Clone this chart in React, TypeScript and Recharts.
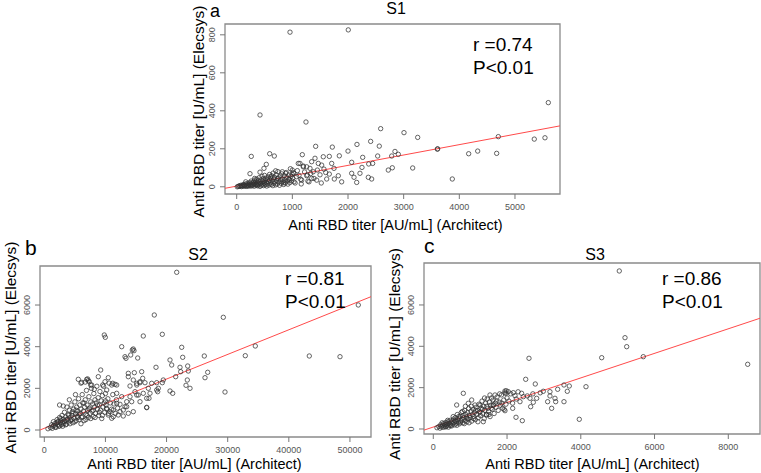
import React from 'react';
import {
  ScatterChart,
  Scatter,
  XAxis,
  YAxis,
  ReferenceArea,
  ReferenceLine,
} from 'recharts';

const FONT = '"Liberation Sans", Arial, sans-serif';

// S1: Architect [AU/mL] vs Elecsys [U/mL]
const s1Points: [number, number][] = [
  [958, 814], [2005, 826], [419, 378], [1245, 341], [5599, 443], [5347, 251], [5539, 258],
  [4701, 264], [4671, 176], [4330, 188], [4168, 174], [3874, 41], [3611, 200], [3605, 198],
  [3252, 260], [3162, 99], [3006, 285], [2587, 306], [2407, 239], [2562, 214], [2161, 223],
  [2000, 188], [1718, 209], [1419, 213], [1179, 169], [262, 160], [593, 174], [676, 162],
  [239, 69], [2904, 171], [2844, 186], [2785, 162], [2796, 100], [2724, 88], [2533, 162],
  [2443, 123], [2372, 120], [2264, 155], [2251, 102], [2365, 50], [2425, 41], [2156, 23],
  [2108, 50], [2066, 71], [2215, 71], [2066, 129], [1844, 163], [1664, 160], [1556, 158],
  [1407, 150], [1826, 58], [1886, 26], [1754, 41], [1664, 67], [1748, 97], [1707, 123],
  [1568, 93], [1527, 114], [1497, 63], [1617, 41], [1466, 123], [1347, 132], [1317, 97],
  [1258, 105], [1197, 109], [1107, 123], [1376, 79], [1258, 58], [1347, 44], [1437, 35],
  [1168, 35], [1078, 53], [1017, 74], [532, 118], [490, 97], [419, 77], [700, 84], [820, 79],
  [880, 71], [1000, 88], [1029, 71], [1137, 123], [1197, 105], [323, 44], [162, 26], [611, 53],
  [730, 44], [940, 39], [1150, 39], [1269, 62], [1389, 44], [1299, 26], [1029, 26], [850, 21],
  [490, 18], [370, 9], [131, 9], [10, 0],
  [30, 2], [45, 5], [60, 3], [75, 8], [85, 1], [95, 6], [110, 4], [120, 12], [135, 3], [150, 7],
  [160, 15], [170, 2], [180, 10], [190, 5], [200, 18], [210, 8], [215, 3], [225, 12], [235, 22],
  [245, 6], [250, 15], [260, 30], [265, 4], [275, 11], [280, 20], [290, 8], [300, 25], [305, 14],
  [315, 3], [320, 35], [330, 18], [340, 9], [345, 28], [355, 12], [360, 40], [370, 22], [375, 5],
  [385, 16], [390, 32], [400, 10], [405, 48], [415, 25], [420, 2], [430, 18], [440, 36], [445, 8],
  [455, 55], [460, 14], [470, 28], [480, 42], [485, 6], [495, 20], [500, 60], [510, 33], [515, 11],
  [525, 45], [530, 24], [540, 4], [550, 38], [555, 16], [565, 52], [570, 28], [580, 9], [590, 65],
  [595, 35], [605, 20], [615, 44], [620, 12], [630, 58], [640, 30], [650, 6], [655, 72], [665, 40],
  [670, 18], [680, 50], [690, 26], [700, 10], [710, 62], [720, 34], [730, 15], [740, 80], [750, 46],
  [760, 24], [770, 8], [780, 56], [790, 36], [800, 18], [810, 68], [820, 42], [830, 28], [845, 12],
  [855, 58], [865, 36], [875, 20], [890, 75], [900, 48], [910, 30], [920, 14], [935, 62], [945, 40],
  [955, 22], [965, 95], [975, 55], [985, 32], [995, 66], [1005, 45], [1050, 20], [1090, 85],
  [1120, 60], [1160, 15], [1220, 78], [1280, 30], [1330, 70], [1450, 88], [1520, 20], [1600, 75],
];

// S2
const s2Points: [number, number][] = [
  [21660, 7571], [17995, 5521], [29283, 5410], [51366, 6001], [9815, 4561], [9979, 4450],
  [16195, 4513], [19303, 4594], [12662, 3999], [14559, 3889], [14674, 3807], [13202, 3519],
  [15279, 3456], [22476, 3970], [22640, 3490], [26174, 3553], [32881, 3567], [34517, 4033],
  [43350, 3553], [48372, 3519], [29560, 1824], [26288, 2511], [26730, 2770], [23458, 3072],
  [23556, 2832], [22198, 3010], [22312, 2799], [21495, 2559], [23180, 2146], [23393, 2400],
  [23835, 2002], [21005, 1762], [20563, 1872], [20563, 3361], [20841, 3120], [19467, 2400],
  [19303, 2271], [18273, 3010], [18551, 1839], [18387, 2271], [18649, 2002], [16751, 1090],
  [17127, 1522], [16195, 1762], [15933, 2799], [16097, 2482], [15655, 2271], [14723, 2751],
  [15115, 2160], [13741, 2559], [14019, 2112], [9226, 2880], [8834, 2559], [7198, 2367],
  [6118, 2289], [5562, 2433], [7754, 2160], [8179, 1954], [9930, 2319], [10469, 2511],
  [11027, 2160], [11566, 2194], [10208, 1920], [11844, 1762], [12662, 1599], [12384, 1234],
  [12923, 960], [13480, 1119], [14297, 1359], [14559, 879], [15115, 1680], [11288, 639],
  [12105, 720], [13741, 802], [10748, 879],
  [14395, 3841], [14133, 3601], [13365, 3442], [13741, 2722], [6936, 2433], [7361, 2319],
  [7590, 2160], [9553, 2160], [11189, 2242], [11844, 2160], [14559, 2400], [15115, 2242],
  [15655, 2319], [16473, 2271], [17013, 2002], [17569, 2242], [18387, 1920], [17291, 1762],
  [16751, 1522], [15655, 1359], [16751, 1071], [15377, 1680], [14837, 1839], [14019, 1599],
  [13480, 1359], [13202, 1119], [12384, 879], [12923, 672], [11844, 1282], [11288, 960],
  [10469, 720], [11027, 562], [10208, 1042],
  [600, 60], [1000, 120], [1200, 250], [1400, 180], [1500, 400], [1700, 300], [1800, 150],
  [2000, 350], [2100, 500], [2200, 250], [2300, 420], [2400, 180], [2500, 600], [2600, 330],
  [2700, 450], [2800, 250], [2900, 700], [3000, 380], [3100, 520], [3200, 300], [3300, 850],
  [3400, 450], [3500, 620], [3600, 280], [3700, 1100], [3800, 520], [3900, 750], [4000, 380],
  [4100, 950], [4200, 600], [4300, 450], [4400, 1200], [4500, 700], [4600, 880], [4700, 350],
  [4800, 1000], [4900, 560], [5000, 1350], [5100, 780], [5200, 450], [5300, 1100], [5400, 650],
  [5500, 900], [5600, 1500], [5700, 500], [5800, 1200], [5900, 800], [6000, 1000], [6100, 600],
  [6200, 1700], [6300, 1300], [6400, 900], [6500, 450], [6600, 1100], [6700, 1450], [6800, 750],
  [6900, 1900], [7000, 1200], [7100, 950], [7200, 600], [7300, 1600], [7400, 1050], [7500, 800],
  [7600, 1350], [7700, 2000], [7800, 900], [7900, 1250], [8000, 650], [8100, 1750], [8200, 1100],
  [8300, 1450], [8400, 800], [8500, 1300], [8600, 2100], [8700, 1000], [8800, 1550], [8900, 700],
  [9000, 1200], [9100, 1850], [9200, 950], [9300, 1400], [9400, 550], [9500, 1650], [9600, 1100],
  [9700, 2100], [9800, 1300], [9900, 850], [10000, 1750], [10100, 1200], [10200, 1000],
  [10400, 1500], [10600, 2250], [10800, 1300], [11000, 1000], [11200, 1700], [11400, 1250],
  [11600, 800], [11800, 1450], [12000, 1050],
  [1300, 80], [1600, 220], [1900, 120], [2200, 380], [2500, 200], [2700, 550], [3000, 180],
  [3300, 400], [3500, 250], [3700, 500], [4000, 700], [4200, 300], [4500, 500], [4700, 800],
  [5000, 400], [5200, 950], [5500, 600], [5700, 750], [6000, 300], [6200, 650], [6500, 1300],
  [6800, 500], [7000, 700], [7300, 1000], [7600, 550], [8000, 950], [8300, 600], [8700, 1200],
  [9000, 850], [9500, 700], [10000, 1400], [10500, 800], [3100, 1150], [4100, 1450],
  [5100, 1700], [6000, 2250], [6700, 2300], [7100, 2450], [2500, 1200],
];

// S3
const s3Points: [number, number][] = [
  [5044, 7644], [5199, 4417], [5245, 3982], [5695, 3498], [4567, 3449], [8526, 3130],
  [2595, 3420], [2506, 2404], [2766, 2177], [4141, 2046], [3688, 2080], [3544, 2129],
  [3634, 1824], [3544, 1321], [3959, 469], [2414, 402], [2243, 566], [3373, 1921], [3164, 1805],
  [3164, 1597], [3300, 1485], [3319, 1321], [3210, 1001], [3101, 1321], [2983, 1824],
  [2804, 1485], [2712, 1290], [2622, 1485], [2641, 1079], [2351, 1321], [2441, 1563],
  [2396, 1727], [2153, 1001], [814, 1727], [1944, 886], [1627, 1161], [2170, 1756], [2216, 1611],
  [2034, 1805], [1944, 1838], [1972, 1727], [1673, 1645], [1537, 1645], [1447, 677], [1356, 353],
  [1266, 837], [1131, 1161], [1041, 1403], [949, 1243], [634, 1161],
  [100, 60], [150, 120], [180, 40], [200, 200], [220, 100], [250, 180], [270, 80], [280, 260],
  [300, 150], [320, 220], [340, 320], [350, 120], [370, 250], [380, 180], [400, 350], [410, 90],
  [430, 280], [450, 200], [460, 420], [480, 300], [500, 150], [510, 380], [530, 250], [550, 480],
  [560, 320], [580, 200], [600, 550], [610, 400], [630, 280], [650, 700], [660, 450], [680, 330],
  [700, 520], [710, 250], [730, 620], [750, 400], [760, 800], [780, 480], [800, 300], [810, 650],
  [830, 550], [850, 900], [860, 400], [880, 700], [900, 580], [910, 350], [930, 800], [950, 480],
  [960, 1000], [980, 650], [1000, 550], [1020, 850], [1040, 380], [1060, 700], [1080, 950],
  [1100, 600], [1120, 800], [1140, 450], [1160, 1050], [1180, 700], [1200, 900], [1220, 550],
  [1240, 1200], [1260, 800], [1280, 650], [1300, 1000], [1320, 1350], [1340, 750], [1360, 1100],
  [1380, 500], [1400, 900], [1420, 1250], [1440, 700], [1460, 1450], [1480, 1000], [1500, 850],
  [1520, 1300], [1540, 600], [1560, 1150], [1580, 1500], [1600, 950], [1620, 1400], [1650, 750],
  [1680, 1250], [1700, 1050], [1730, 1550], [1760, 900], [1790, 1300], [1820, 1150], [1850, 1650],
  [1880, 1000], [1910, 1400], [1940, 1750], [1970, 1200], [2000, 1500], [2050, 1350], [2100, 1700],
  [2150, 1250], [2250, 1450], [2300, 1800], [2550, 1600], [2700, 1700], [2900, 1750],
  [240, 300], [330, 100], [390, 420], [470, 160], [540, 600], [590, 380], [640, 180], [690, 600],
  [740, 330], [790, 850], [840, 260], [870, 1100], [920, 500], [970, 300], [1030, 1100],
  [1090, 500], [1150, 900], [1210, 350], [1270, 1150], [1330, 950], [1390, 1500], [1450, 1100],
  [1510, 700], [1570, 1000], [1630, 1150], [1720, 1350], [1800, 1700], [1860, 1250], [1920, 950],
  [1980, 1850],
];

const s1XTicks = [0, 1000, 2000, 3000, 4000, 5000];
const s1YTicks = [0, 200, 400, 600, 800];
const s2XTicks = [0, 10000, 20000, 30000, 40000, 50000];
const s2YTicks = [0, 2000, 4000, 6000];
const s3XTicks = [0, 2000, 4000, 6000, 8000];
const s3YTicks = [0, 2000, 4000, 6000];

// regression lines: [intercept, slope]
const s1Fit = [3.5, 0.0546];
const s2Fit = [83, 0.1182];
const s3Fit = [95, 0.594];

const XTick = (props: any) => {
  const { x, y, payload } = props;
  return (
    <text x={x} y={y + 9} textAnchor="middle" fontSize={9} fill="#555" fontFamily={FONT}>
      {payload.value}
    </text>
  );
};

const YTick = (props: any) => {
  const { x, y, payload } = props;
  const bx = x - 3;
  return (
    <text
      x={bx}
      y={y}
      transform={`rotate(-90, ${bx}, ${y})`}
      textAnchor="middle"
      fontSize={9}
      fill="#555"
      fontFamily={FONT}
    >
      {payload.value}
    </text>
  );
};

const dot = (p: any) => (
  <circle cx={p.cx} cy={p.cy} r={2.2} fill="none" stroke="#333" strokeWidth={0.75} />
);

interface PanelProps {
  box: { x: number; y: number; w: number; h: number };
  xDomain: [number, number];
  yDomain: [number, number];
  xTicks: number[];
  yTicks: number[];
  points: [number, number][];
  fit: number[];
}

const Panel = ({ box, xDomain, yDomain, xTicks, yTicks, points, fit }: PanelProps) => {
  const data = points.map(([x, y]) => ({ x, y }));
  const [a, b] = fit;
  return (
    <div style={{ position: 'absolute', left: box.x - 40, top: box.y - 2 }}>
      <ScatterChart
        width={box.w + 43}
        height={box.h + 32}
        margin={{ top: 2, right: 3, left: 0, bottom: 0 }}
      >
        <XAxis
          type="number"
          dataKey="x"
          domain={xDomain}
          ticks={xTicks}
          interval={0}
          allowDataOverflow
          axisLine={false}
          tickSize={5}
          tickLine={{ stroke: '#777' }}
          tick={<XTick />}
          height={30}
        />
        <YAxis
          type="number"
          dataKey="y"
          domain={yDomain}
          ticks={yTicks}
          interval={0}
          allowDataOverflow
          axisLine={false}
          tickSize={5}
          tickLine={{ stroke: '#777' }}
          tick={<YTick />}
          width={40}
        />
        <Scatter data={data} shape={dot} isAnimationActive={false} />
        <ReferenceLine
          segment={[
            { x: xDomain[0], y: a + b * xDomain[0] },
            { x: xDomain[1], y: a + b * xDomain[1] },
          ]}
          stroke="#ff4a4a"
          strokeWidth={1}
          ifOverflow="hidden"
        />
        <ReferenceArea
          x1={xDomain[0]}
          x2={xDomain[1]}
          y1={yDomain[0]}
          y2={yDomain[1]}
          fill="none"
          stroke="#8a8a8a"
          strokeWidth={1.3}
          ifOverflow="visible"
        />
      </ScatterChart>
    </div>
  );
};

const xLabel = 'Anti RBD titer [AU/mL] (Architect)';
const yLabel = 'Anti RBD titer [U/mL] (Elecsys)';

export default function App() {
  return (
    <div
      style={{
        position: 'absolute',
        left: 0,
        top: 0,
        width: 761,
        height: 473,
        background: '#fff',
        overflow: 'hidden',
      }}
    >
      <Panel
        box={{ x: 225, y: 24, w: 335, h: 170 }}
        xDomain={[-210, 5809]}
        yDomain={[-38, 857]}
        xTicks={s1XTicks}
        yTicks={s1YTicks}
        points={s1Points}
        fit={s1Fit}
      />
      <Panel
        box={{ x: 40, y: 266, w: 331, h: 171 }}
        xDomain={[-703, 53443]}
        yDomain={[-336, 7873]}
        xTicks={s2XTicks}
        yTicks={s2YTicks}
        points={s2Points}
        fit={s2Fit}
      />
      <Panel
        box={{ x: 424, y: 263, w: 336, h: 171 }}
        xDomain={[-252, 8860]}
        yDomain={[-242, 8030]}
        xTicks={s3XTicks}
        yTicks={s3YTicks}
        points={s3Points}
        fit={s3Fit}
      />
      <svg
        width={761}
        height={473}
        style={{ position: 'absolute', left: 0, top: 0, pointerEvents: 'none' }}
        fontFamily={FONT}
      >
        {/* panel letters */}
        <text x={210} y={17} fontSize={18}>a</text>
        <text x={25} y={255} fontSize={21}>b</text>
        <text x={424} y={253} fontSize={21}>c</text>
        {/* titles */}
        <text x={396} y={14} fontSize={16} textAnchor="middle">S1</text>
        <text x={198} y={260} fontSize={16} textAnchor="middle">S2</text>
        <text x={595} y={260} fontSize={16} textAnchor="middle">S3</text>
        {/* stats */}
        <text x={473} y={51} fontSize={19}>r =0.74</text>
        <text x={473} y={73.5} fontSize={19}>P&lt;0.01</text>
        <text x={285} y={285} fontSize={19}>r =0.81</text>
        <text x={285} y={308} fontSize={19}>P&lt;0.01</text>
        <text x={662} y={285} fontSize={19}>r =0.86</text>
        <text x={662} y={308} fontSize={19}>P&lt;0.01</text>
        {/* axis titles */}
        <text x={395.5} y={229.5} fontSize={14.5} textAnchor="middle">{xLabel}</text>
        <text x={194.5} y={469} fontSize={14.5} textAnchor="middle">{xLabel}</text>
        <text x={592.5} y={469} fontSize={14.5} textAnchor="middle">{xLabel}</text>
        <text x={203.5} y={111.5} fontSize={15.5} textAnchor="middle" transform="rotate(-90, 203.5, 111.5)">{yLabel}</text>
        <text x={16} y={347.5} fontSize={15.5} textAnchor="middle" transform="rotate(-90, 16, 347.5)">{yLabel}</text>
        <text x={399.5} y={354} fontSize={15.5} textAnchor="middle" transform="rotate(-90, 399.5, 354)">{yLabel}</text>
      </svg>
    </div>
  );
}
